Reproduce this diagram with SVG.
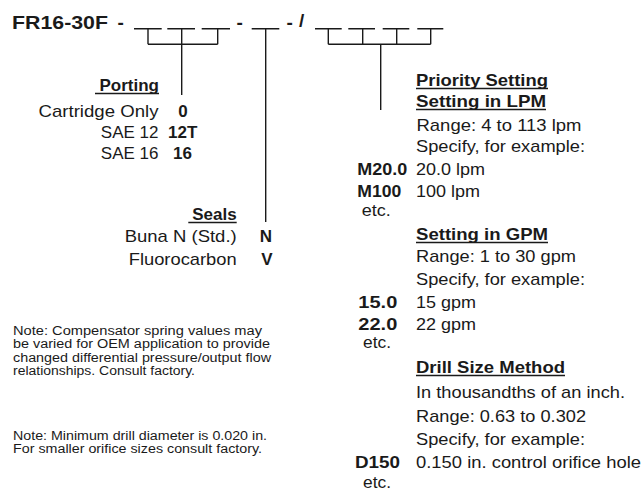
<svg xmlns="http://www.w3.org/2000/svg" width="643" height="492" viewBox="0 0 643 492">
<style>
text{font-family:"Liberation Sans",Arial,Helvetica,sans-serif;fill:#1a1a1a;font-size:17px}
.b{font-weight:bold}
.n{font-size:12px}
.t{font-size:19px;font-weight:bold}
.ln{stroke:#1a1a1a;stroke-width:1.4;fill:none}
.u{stroke:#1a1a1a;stroke-width:1.3}
</style>
<rect width="643" height="492" fill="#fff"/>
<g id="title">
<text class="t" x="12" y="28.5" textLength="96" lengthAdjust="spacingAndGlyphs">FR16-30F</text>
<text class="t" x="117.5" y="28.5">-</text>
<text class="t" x="236.5" y="28.5">-</text>
<text class="t" x="286.5" y="28.5">-</text>
<text class="t" x="299" y="27">/</text>
</g>
<g id="connectors" class="ln">
<path d="M134 28.7H161.7M167.3 28.7H195M201.7 28.7H230"/>
<path d="M148 28.7V44.3M217.7 28.7V44.3M148 44.3H217.7M181.7 28.7V95"/>
<path d="M251.7 28.7H279.3M265.7 28.7V222"/>
<path d="M315 28.7H341.7M348.3 28.7H375M382.7 28.7H409.3M417.3 28.7H443.3"/>
<path d="M328.3 28.7V44.3M362.7 28.7V44.3M396.7 28.7V44.3M430.7 28.7V44.3M328.3 44.3H430.7M380.7 44.3V110"/>
</g>
<g id="porting">
<text class="b" x="159" y="91" text-anchor="end">Porting</text>
<line class="u" x1="95" y1="93.5" x2="159" y2="93.5"/>
<text x="158.5" y="116.5" text-anchor="end" textLength="120" lengthAdjust="spacingAndGlyphs">Cartridge Only</text>
<text class="b" x="183" y="116.5" text-anchor="middle">0</text>
<text x="158.5" y="137.5" text-anchor="end">SAE 12</text>
<text class="b" x="168" y="137.5">12T</text>
<text x="158.5" y="159" text-anchor="end">SAE 16</text>
<text class="b" x="173" y="159">16</text>
</g>
<g id="seals">
<text class="b" x="236.7" y="220" text-anchor="end">Seals</text>
<line class="u" x1="188.3" y1="222.5" x2="236.7" y2="222.5"/>
<text x="236.7" y="242" text-anchor="end" textLength="112" lengthAdjust="spacingAndGlyphs">Buna N (Std.)</text>
<text class="b" x="266" y="242" text-anchor="middle">N</text>
<text x="236.7" y="265" text-anchor="end" textLength="108" lengthAdjust="spacingAndGlyphs">Fluorocarbon</text>
<text class="b" x="267" y="265" text-anchor="middle">V</text>
</g>
<g id="notes">
<text class="n" x="13" y="335" textLength="249" lengthAdjust="spacingAndGlyphs">Note:  Compensator spring values may</text>
<text class="n" x="13" y="348.3" textLength="257" lengthAdjust="spacingAndGlyphs">be varied for OEM application to provide</text>
<text class="n" x="13" y="361.7" textLength="258" lengthAdjust="spacingAndGlyphs">changed differential pressure/output flow</text>
<text class="n" x="13" y="375" textLength="182" lengthAdjust="spacingAndGlyphs">relationships. Consult factory.</text>
<text class="n" x="13" y="440" textLength="254" lengthAdjust="spacingAndGlyphs">Note: Minimum drill diameter is 0.020 in.</text>
<text class="n" x="13" y="453" textLength="249" lengthAdjust="spacingAndGlyphs">For smaller orifice sizes consult factory.</text>
</g>
<g id="priority">
<text class="b" x="416" y="86" textLength="132" lengthAdjust="spacingAndGlyphs">Priority Setting</text>
<line class="u" x1="416" y1="88.5" x2="548" y2="88.5"/>
<text class="b" x="416" y="107" textLength="130" lengthAdjust="spacingAndGlyphs">Setting in LPM</text>
<line class="u" x1="416" y1="109.5" x2="546" y2="109.5"/>
<text x="416.5" y="131" textLength="165" lengthAdjust="spacingAndGlyphs">Range: 4 to 113 lpm</text>
<text x="416" y="152" textLength="169" lengthAdjust="spacingAndGlyphs">Specify, for example:</text>
<text class="b" x="357.3" y="175" textLength="50" lengthAdjust="spacingAndGlyphs">M20.0</text>
<text x="416" y="175" textLength="69" lengthAdjust="spacingAndGlyphs">20.0 lpm</text>
<text class="b" x="357.3" y="196.5" textLength="44" lengthAdjust="spacingAndGlyphs">M100</text>
<text x="416" y="196.5" textLength="64" lengthAdjust="spacingAndGlyphs">100 lpm</text>
<text x="361.7" y="216" textLength="29" lengthAdjust="spacingAndGlyphs">etc.</text>
<text class="b" x="416" y="240" textLength="132" lengthAdjust="spacingAndGlyphs">Setting in GPM</text>
<line class="u" x1="416" y1="242.5" x2="548" y2="242.5"/>
<text x="416" y="262" textLength="160" lengthAdjust="spacingAndGlyphs">Range: 1 to 30 gpm</text>
<text x="416" y="285" textLength="169" lengthAdjust="spacingAndGlyphs">Specify, for example:</text>
<text class="b" x="358.3" y="308" textLength="39" lengthAdjust="spacingAndGlyphs">15.0</text>
<text x="416" y="308" textLength="60" lengthAdjust="spacingAndGlyphs">15 gpm</text>
<text class="b" x="358.3" y="330" textLength="39" lengthAdjust="spacingAndGlyphs">22.0</text>
<text x="416" y="330" textLength="60" lengthAdjust="spacingAndGlyphs">22 gpm</text>
<text x="363" y="348" textLength="28" lengthAdjust="spacingAndGlyphs">etc.</text>
<text class="b" x="416" y="373" textLength="149" lengthAdjust="spacingAndGlyphs">Drill Size Method</text>
<line class="u" x1="416" y1="375.5" x2="565" y2="375.5"/>
<text x="416" y="398" textLength="209" lengthAdjust="spacingAndGlyphs">In thousandths of an inch.</text>
<text x="416" y="421.5" textLength="170" lengthAdjust="spacingAndGlyphs">Range: 0.63 to 0.302</text>
<text x="416" y="445" textLength="169" lengthAdjust="spacingAndGlyphs">Specify, for example:</text>
<text class="b" x="355" y="468" textLength="45" lengthAdjust="spacingAndGlyphs">D150</text>
<text x="416" y="468" textLength="225" lengthAdjust="spacingAndGlyphs">0.150 in. control orifice hole</text>
<text x="363" y="488" textLength="28" lengthAdjust="spacingAndGlyphs">etc.</text>
</g>
</svg>
